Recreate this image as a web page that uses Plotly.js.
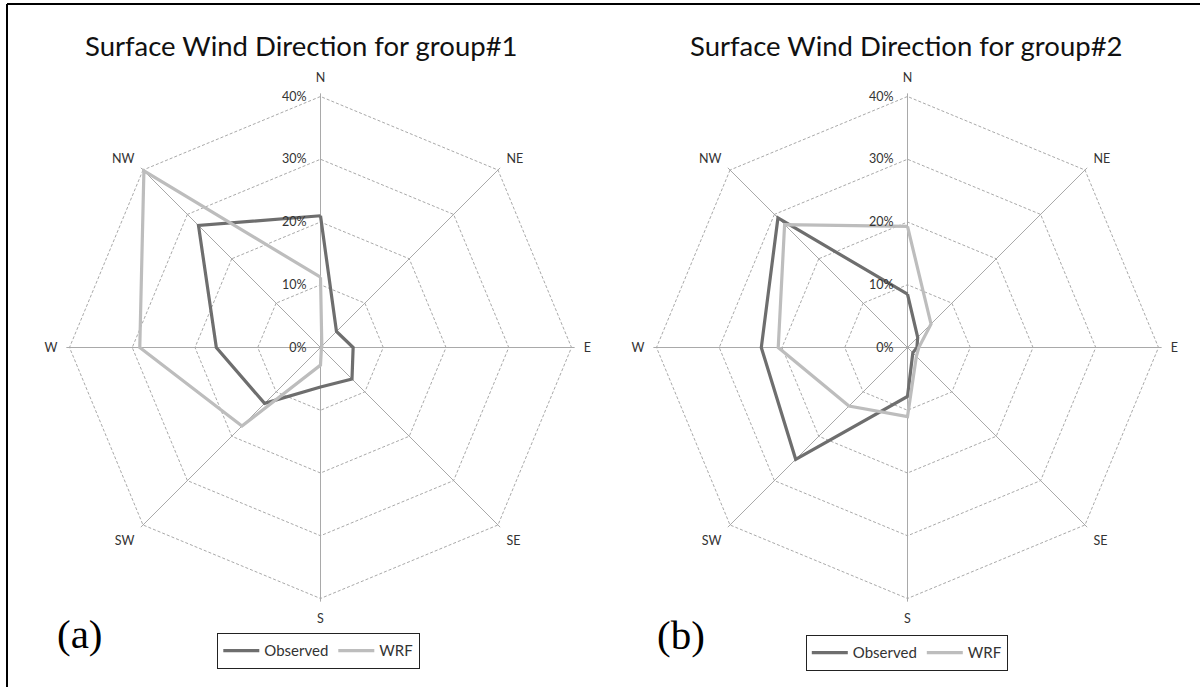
<!DOCTYPE html>
<html>
<head>
<meta charset="utf-8">
<script src="https://cdn.plot.ly/plotly-3.0.1.min.js"></script>
<style>html,body{margin:0;padding:0;background:#fff;}#chart{width:1200px;height:687px;}</style>
</head>
<body>
<div id="chart"></div>
<script>
const directions = ['N', 'NE', 'E', 'SE', 'S', 'SW', 'W', 'NW'];
const radialTicks = [0, 10, 20, 30, 40];
const radialTickText = ['0%', '10%', '20%', '30%', '40%'];
const seriesNames = ['Observed', 'WRF'];
const observedGroup1 = [21, 3.6, 5.2, 7.1, 6.3, 12.6, 16.6, 27.5];
const wrfGroup1 = [11.2, 0.3, 0.2, 0.2, 2.8, 17.7, 28.8, 39.8];
const observedGroup2 = [8.5, 2.3, 1.5, 1.2, 7.8, 25.2, 23.3, 29.2];
const wrfGroup2 = [19.3, 5.3, 1.8, 2.0, 11, 13.2, 20.6, 27.7];
const titles = ['Surface Wind Direction for group#1', 'Surface Wind Direction for group#2'];
const panelLabels = ['(a)', '(b)'];

const W = 1200, H = 687;
const textColor = '#333333';
const gridColor = '#a9a9a9';
const obsColor = '#6e6e6e';
const wrfColor = '#bdbdbd';
const baseFont = 'Lato, "Open Sans", sans-serif';
const rMax = 40.5;
const rad40 = 251;

function closed(arr) { return arr.concat([arr[0]]); }
const theta = closed(directions);

function trace(vals, name, color, polar, legend) {
  return {
    type: 'scatterpolar', mode: 'lines',
    r: closed(vals), theta: theta, name: name,
    subplot: polar, legend: legend,
    line: {color: color, width: 3.2},
    hoverinfo: 'skip'
  };
}

const data = [
  trace(observedGroup1, seriesNames[0], obsColor, 'polar', 'legend'),
  trace(wrfGroup1, seriesNames[1], wrfColor, 'polar', 'legend'),
  trace(observedGroup2, seriesNames[0], obsColor, 'polar2', 'legend2'),
  trace(wrfGroup2, seriesNames[1], wrfColor, 'polar2', 'legend2')
];

function polarLayout(cx, cy) {
  const rad = rad40 * rMax / 40;
  return {
    domain: {x: [(cx - rad) / W, (cx + rad) / W], y: [1 - (cy + rad) / H, 1 - (cy - rad) / H]},
    gridshape: 'linear',
    bgcolor: 'rgba(0,0,0,0)',
    radialaxis: {
      range: [0, rMax], tickvals: radialTicks, ticktext: radialTickText,
      showline: false, ticks: 'outside', ticklen: 9, tickcolor: 'rgba(0,0,0,0)',
      angle: 90, side: 'counterclockwise', tickangle: 90,
      gridcolor: gridColor, griddash: '3px,2px', gridwidth: 1,
      tickfont: {family: baseFont, size: 12.5, color: textColor}
    },
    angularaxis: {
      type: 'category', categoryarray: directions, direction: 'clockwise', rotation: 90,
      showline: false, ticks: 'outside', ticklen: 6, tickcolor: 'rgba(0,0,0,0)',
      gridcolor: gridColor, gridwidth: 1,
      tickfont: {family: baseFont, size: 12.5, color: textColor}
    }
  };
}

function legendLayout(cx, top) {
  return {
    orientation: 'h', x: cx / W, xanchor: 'center', y: 1 - top / H, yanchor: 'top',
    bordercolor: '#222', borderwidth: 1.3, bgcolor: '#fff',
    font: {family: baseFont, size: 15, color: textColor},
    itemwidth: 36, tracegroupgap: 0
  };
}

const layout = {
  width: W, height: H,
  margin: {l: 0, r: 0, t: 0, b: 0},
  paper_bgcolor: '#fff', plot_bgcolor: '#fff',
  showlegend: true,
  polar: polarLayout(320.5, 347.5),
  polar2: polarLayout(907.5, 347.5),
  legend: legendLayout(318.5, 633),
  legend2: legendLayout(907, 635),
  annotations: [
    {text: titles[0], x: 301 / W, y: 1 - 45 / H, xref: 'paper', yref: 'paper', showarrow: false,
     xanchor: 'center', yanchor: 'middle', font: {family: baseFont, size: 27.5, color: '#111'}},
    {text: titles[1], x: 906.5 / W, y: 1 - 45 / H, xref: 'paper', yref: 'paper', showarrow: false,
     xanchor: 'center', yanchor: 'middle', font: {family: baseFont, size: 27.5, color: '#111'}},
    {text: panelLabels[0], x: 80 / W, y: 1 - 634 / H, xref: 'paper', yref: 'paper', showarrow: false,
     xanchor: 'center', yanchor: 'middle', font: {family: '"Liberation Serif", "DejaVu Serif", serif', size: 41, color: '#000'}},
    {text: panelLabels[1], x: 681 / W, y: 1 - 635 / H, xref: 'paper', yref: 'paper', showarrow: false,
     xanchor: 'center', yanchor: 'middle', font: {family: '"Liberation Serif", "DejaVu Serif", serif', size: 41, color: '#000'}}
  ],
  shapes: [
    {type: 'line', xref: 'paper', yref: 'paper', x0: 7 / W, x1: 1, y0: 1 - 4 / H, y1: 1 - 4 / H, line: {color: '#000', width: 2}},
    {type: 'line', xref: 'paper', yref: 'paper', x0: 7 / W, x1: 7 / W, y0: 0, y1: 1 - 4 / H, line: {color: '#000', width: 2}}
  ]
};

Plotly.newPlot('chart', data, layout, {staticPlot: true, displayModeBar: false});
</script>
</body>
</html>
